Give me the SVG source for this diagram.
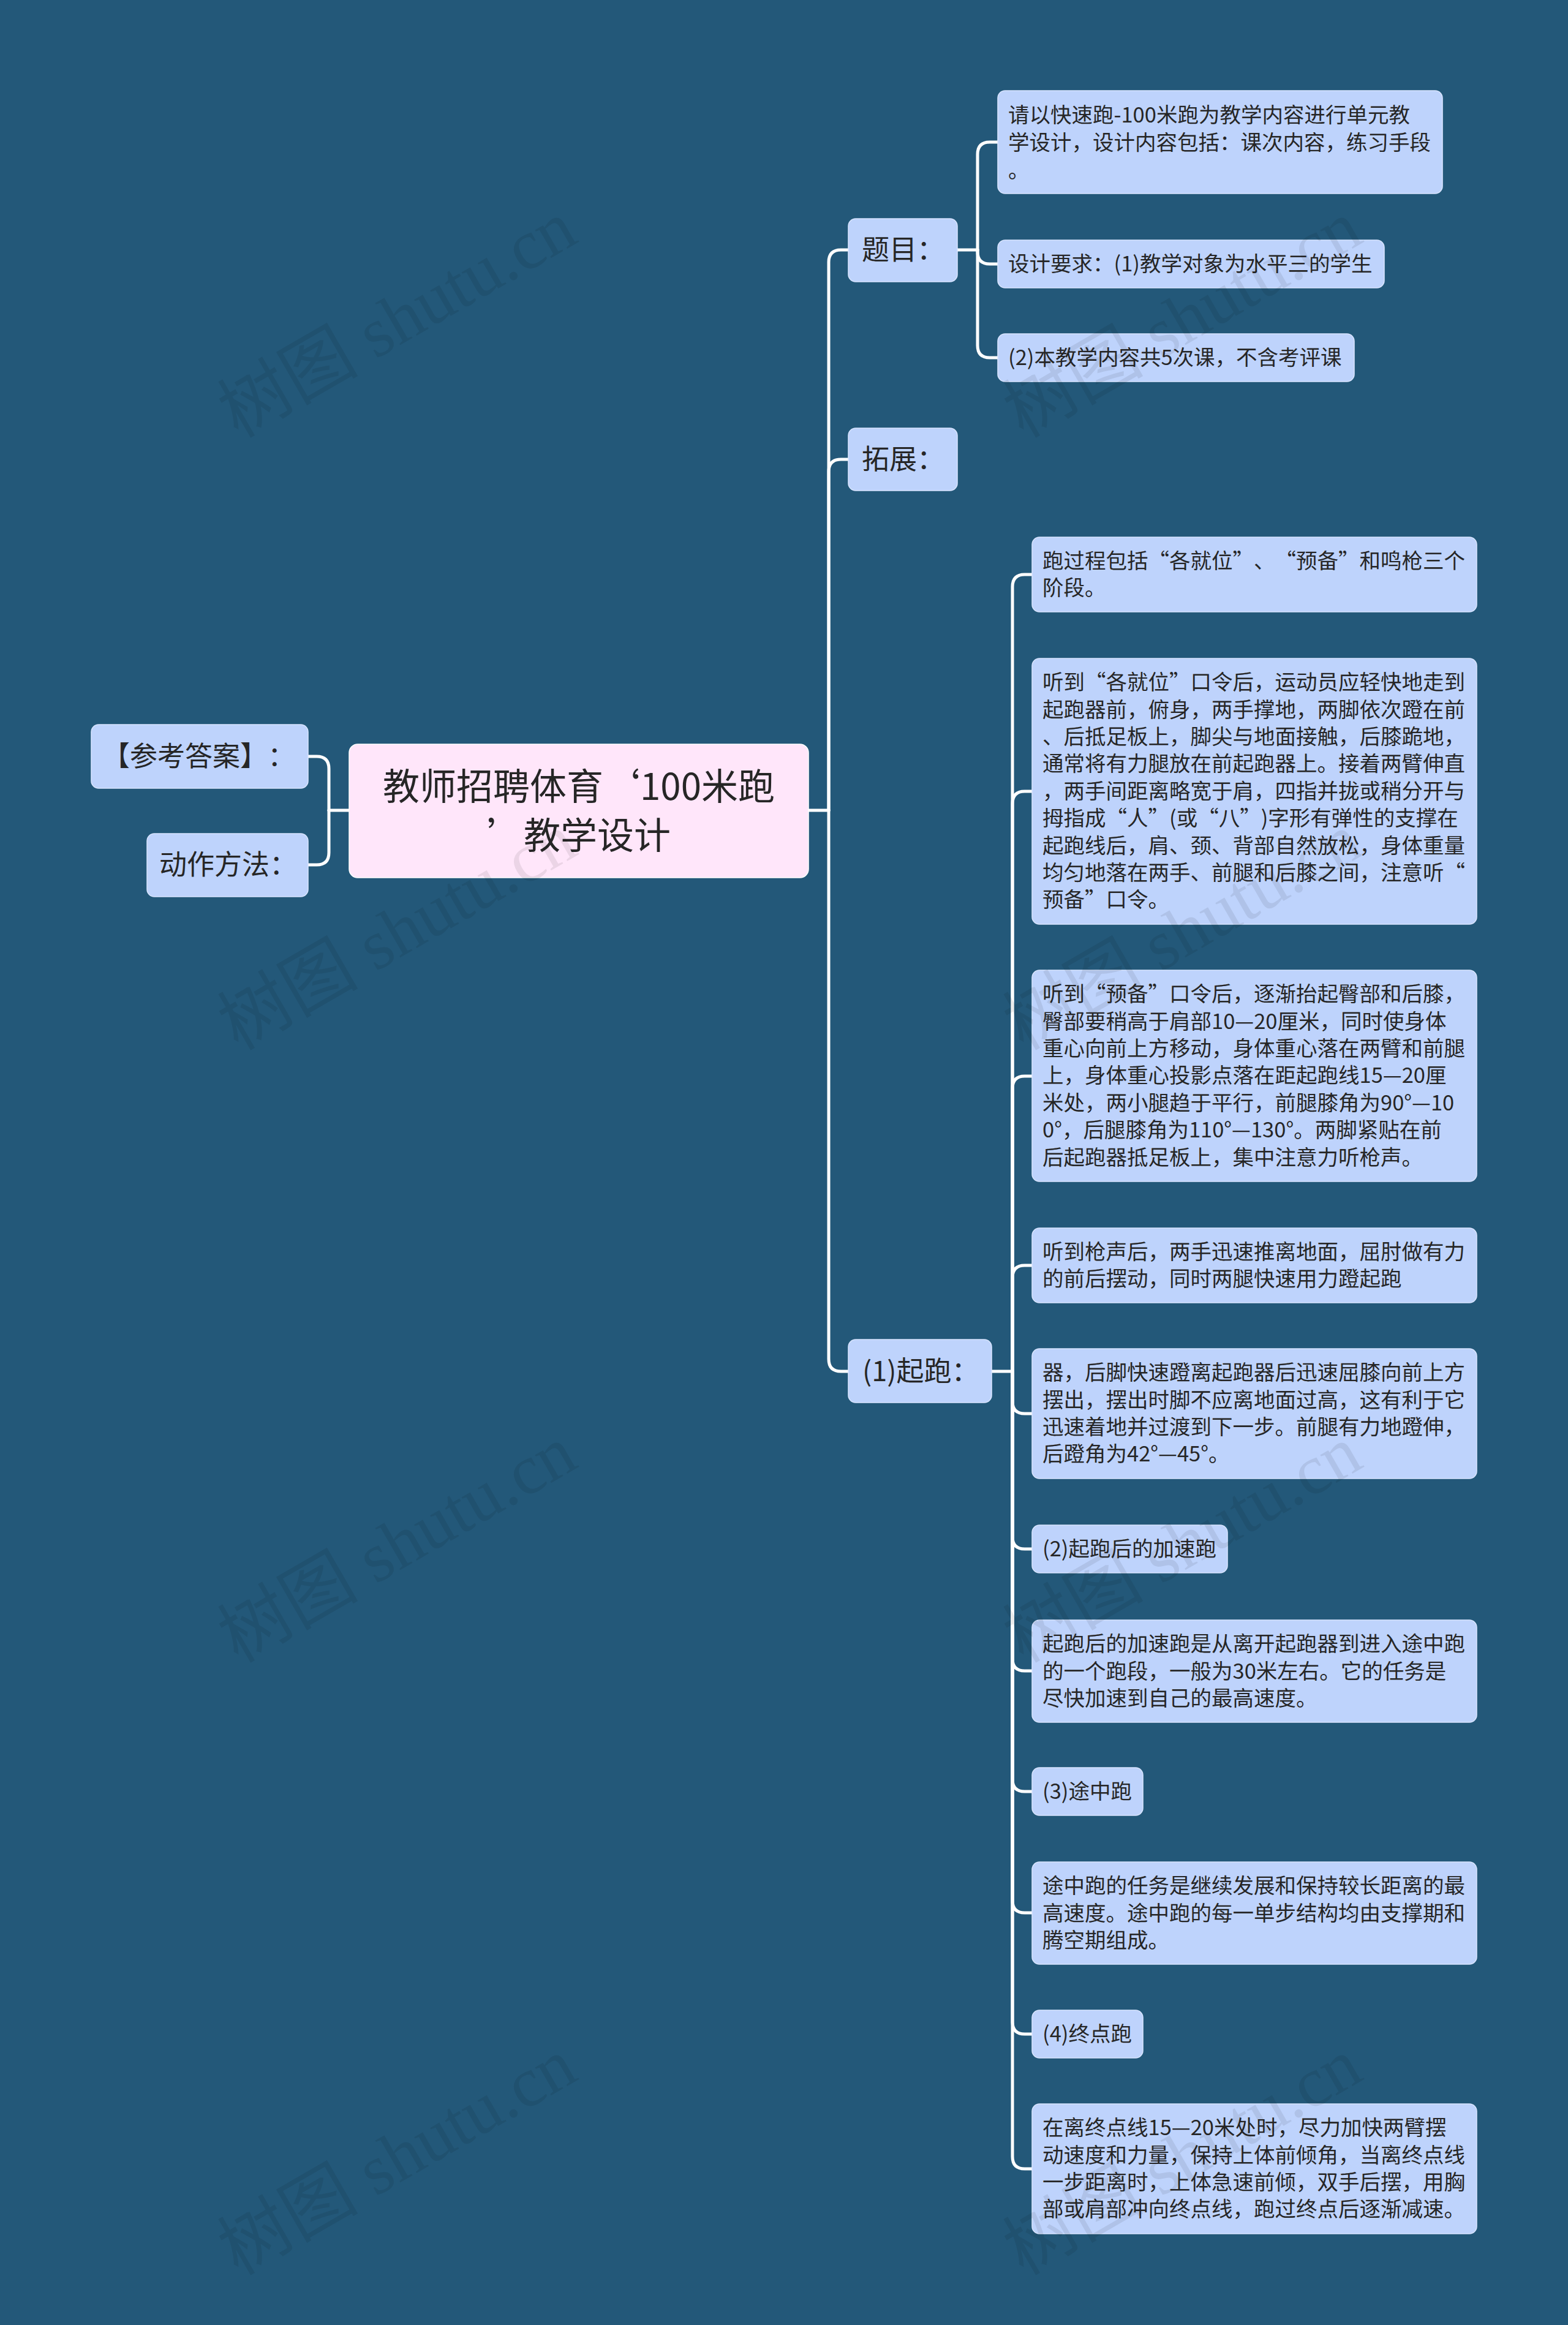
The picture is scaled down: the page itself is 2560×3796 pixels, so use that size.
<svg xmlns="http://www.w3.org/2000/svg" width="2560" height="3796" viewBox="0 0 2560 3796">
<style>
.bg{fill:#235879}
.n{fill:#bed3fc;stroke:#d9e5ff;stroke-width:1.5}
.root{fill:#ffe6fa;stroke:#ffffff;stroke-width:1.5}
.t{font-family:"Noto Sans CJK SC","Noto Sans",sans-serif;fill:#262626;text-spacing-trim:space-all;font-feature-settings:"halt" 0,"chws" 0}
.s{font-size:34.5px}
.m{font-size:45px}
.r{font-size:60px}
.c{fill:none;stroke:#ffffff;stroke-width:5;stroke-linecap:round}
.wm{font-family:"Liberation Serif","Noto Sans CJK SC",serif;font-size:115px;fill:#000000;fill-opacity:0.08}
</style>
<rect class="bg" x="0" y="0" width="2560" height="3796"/>

<g id="connectors">
<path class="c" d="M1320,1323 H1353"/>
<path class="c" d="M1353,1323 V428 Q1353,408 1373,408 H1385"/>
<path class="c" d="M1353,1323 V770 Q1353,750 1373,750 H1385"/>
<path class="c" d="M1353,1323 V2219 Q1353,2239 1373,2239 H1385"/>
<path class="c" d="M570,1323 H537"/>
<path class="c" d="M537,1323 V1255 Q537,1235 517,1235 H503"/>
<path class="c" d="M537,1323 V1392 Q537,1412 517,1412 H503"/>
<path class="c" d="M1563,408 H1596"/>
<path class="c" d="M1596,408 V252 Q1596,232 1616,232 H1629"/>
<path class="c" d="M1596,408 V411 Q1596,431 1616,431 H1629"/>
<path class="c" d="M1596,408 V564 Q1596,584 1616,584 H1629"/>
<path class="c" d="M1619,2239 H1653"/>
<path class="c" d="M1653,2239 V958 Q1653,938 1673,938 H1685"/>
<path class="c" d="M1653,2239 V1312 Q1653,1292 1673,1292 H1685"/>
<path class="c" d="M1653,2239 V1777 Q1653,1757 1673,1757 H1685"/>
<path class="c" d="M1653,2239 V2086 Q1653,2066 1673,2066 H1685"/>
<path class="c" d="M1653,2239 V2288 Q1653,2308 1673,2308 H1685"/>
<path class="c" d="M1653,2239 V2509 Q1653,2529 1673,2529 H1685"/>
<path class="c" d="M1653,2239 V2708 Q1653,2728 1673,2728 H1685"/>
<path class="c" d="M1653,2239 V2905 Q1653,2925 1673,2925 H1685"/>
<path class="c" d="M1653,2239 V3103 Q1653,3123 1673,3123 H1685"/>
<path class="c" d="M1653,2239 V3301 Q1653,3321 1673,3321 H1685"/>
<path class="c" d="M1653,2239 V3521 Q1653,3541 1673,3541 H1685"/>
</g>

<g id="root">
<rect class="root" x="570" y="1215" width="750" height="218" rx="14"/>
<text class="t r" x="945" y="1306" text-anchor="middle">教师招聘体育‘100米跑</text>
<text class="t r" x="945" y="1386" text-anchor="middle">’教学设计</text>
</g>

<g id="n-answer">
<rect class="n" x="149" y="1183" width="354" height="104" rx="12"/>
<text class="t m" x="167" y="1251">【参考答案】：</text>
</g>
<g id="n-method">
<rect class="n" x="240" y="1361" width="263" height="103" rx="12"/>
<text class="t m" x="260" y="1428">动作方法：</text>
</g>

<g id="n-timu">
<rect class="n" x="1385" y="357" width="178" height="103" rx="12"/>
<text class="t m" x="1407" y="424">题目：</text>
</g>
<g id="n-tuozhan">
<rect class="n" x="1385" y="699" width="178" height="102" rx="12"/>
<text class="t m" x="1407" y="766">拓展：</text>
</g>
<g id="n-qipao">
<rect class="n" x="1385" y="2187" width="234" height="103" rx="12"/>
<text class="t m" x="1408" y="2255">(1)起跑：</text>
</g>

<g id="n-timu-1">
<rect class="n" x="1629" y="148" width="726" height="168" rx="12"/>
<text class="t s" x="1646" y="200">请以快速跑-100米跑为教学内容进行单元教</text>
<text class="t s" x="1646" y="245">学设计，设计内容包括：课次内容，练习手段</text>
<text class="t s" x="1646" y="290">。</text>
</g>
<g id="n-timu-2">
<rect class="n" x="1629" y="392" width="631" height="78" rx="12"/>
<text class="t s" x="1646" y="443">设计要求：(1)教学对象为水平三的学生</text>
</g>
<g id="n-timu-3">
<rect class="n" x="1629" y="545" width="582" height="78" rx="12"/>
<text class="t s" x="1646" y="596">(2)本教学内容共5次课，不含考评课</text>
</g>

<g id="n-q1">
<rect class="n" x="1685" y="877" width="726" height="122" rx="12"/>
<text class="t s" x="1702" y="928">跑过程包括“各就位”、“预备”和鸣枪三个</text>
<text class="t s" x="1702" y="972">阶段。</text>
</g>
<g id="n-q2">
<rect class="n" x="1685" y="1075" width="726" height="434" rx="12"/>
<text class="t s" x="1702" y="1126">听到“各就位”口令后，运动员应轻快地走到</text>
<text class="t s" x="1702" y="1171">起跑器前，俯身，两手撑地，两脚依次蹬在前</text>
<text class="t s" x="1702" y="1215">、后抵足板上，脚尖与地面接触，后膝跪地，</text>
<text class="t s" x="1702" y="1259">通常将有力腿放在前起跑器上。接着两臂伸直</text>
<text class="t s" x="1702" y="1304">，两手间距离略宽于肩，四指并拢或稍分开与</text>
<text class="t s" x="1702" y="1348">拇指成“人”(或“八”)字形有弹性的支撑在</text>
<text class="t s" x="1702" y="1393">起跑线后，肩、颈、背部自然放松，身体重量</text>
<text class="t s" x="1702" y="1437">均匀地落在两手、前腿和后膝之间，注意听“</text>
<text class="t s" x="1702" y="1481">预备”口令。</text>
</g>
<g id="n-q3">
<rect class="n" x="1685" y="1584" width="726" height="345" rx="12"/>
<text class="t s" x="1702" y="1635">听到“预备”口令后，逐渐抬起臀部和后膝，</text>
<text class="t s" x="1702" y="1680">臀部要稍高于肩部10—20厘米，同时使身体</text>
<text class="t s" x="1702" y="1724">重心向前上方移动，身体重心落在两臂和前腿</text>
<text class="t s" x="1702" y="1768">上，身体重心投影点落在距起跑线15—20厘</text>
<text class="t s" x="1702" y="1813">米处，两小腿趋于平行，前腿膝角为90°—10</text>
<text class="t s" x="1702" y="1857">0°，后腿膝角为110°—130°。两脚紧贴在前</text>
<text class="t s" x="1702" y="1902">后起跑器抵足板上，集中注意力听枪声。</text>
</g>
<g id="n-q4">
<rect class="n" x="1685" y="2005" width="726" height="122" rx="12"/>
<text class="t s" x="1702" y="2056">听到枪声后，两手迅速推离地面，屈肘做有力</text>
<text class="t s" x="1702" y="2100">的前后摆动，同时两腿快速用力蹬起跑</text>
</g>
<g id="n-q5">
<rect class="n" x="1685" y="2202" width="726" height="212" rx="12"/>
<text class="t s" x="1702" y="2253">器，后脚快速蹬离起跑器后迅速屈膝向前上方</text>
<text class="t s" x="1702" y="2298">摆出，摆出时脚不应离地面过高，这有利于它</text>
<text class="t s" x="1702" y="2342">迅速着地并过渡到下一步。前腿有力地蹬伸，</text>
<text class="t s" x="1702" y="2386">后蹬角为42°—45°。</text>
</g>
<g id="n-q6">
<rect class="n" x="1685" y="2490" width="319" height="78" rx="12"/>
<text class="t s" x="1702" y="2541">(2)起跑后的加速跑</text>
</g>
<g id="n-q7">
<rect class="n" x="1685" y="2645" width="726" height="167" rx="12"/>
<text class="t s" x="1702" y="2696">起跑后的加速跑是从离开起跑器到进入途中跑</text>
<text class="t s" x="1702" y="2741">的一个跑段，一般为30米左右。它的任务是</text>
<text class="t s" x="1702" y="2785">尽快加速到自己的最高速度。</text>
</g>
<g id="n-q8">
<rect class="n" x="1685" y="2886" width="181" height="78" rx="12"/>
<text class="t s" x="1702" y="2937">(3)途中跑</text>
</g>
<g id="n-q9">
<rect class="n" x="1685" y="3040" width="726" height="167" rx="12"/>
<text class="t s" x="1702" y="3091">途中跑的任务是继续发展和保持较长距离的最</text>
<text class="t s" x="1702" y="3136">高速度。途中跑的每一单步结构均由支撑期和</text>
<text class="t s" x="1702" y="3180">腾空期组成。</text>
</g>
<g id="n-q10">
<rect class="n" x="1685" y="3282" width="181" height="78" rx="12"/>
<text class="t s" x="1702" y="3333">(4)终点跑</text>
</g>
<g id="n-q11">
<rect class="n" x="1685" y="3435" width="726" height="212" rx="12"/>
<text class="t s" x="1702" y="3486">在离终点线15—20米处时，尽力加快两臂摆</text>
<text class="t s" x="1702" y="3531">动速度和力量，保持上体前倾角，当离终点线</text>
<text class="t s" x="1702" y="3575">一步距离时，上体急速前倾，双手后摆，用胸</text>
<text class="t s" x="1702" y="3619">部或肩部冲向终点线，跑过终点后逐渐减速。</text>
</g>

<g id="watermark">
<text class="wm" text-anchor="middle" transform="translate(668,555) rotate(-30)">树图 shutu.cn</text>
<text class="wm" text-anchor="middle" transform="translate(1950,555) rotate(-30)">树图 shutu.cn</text>
<text class="wm" text-anchor="middle" transform="translate(668,1555) rotate(-30)">树图 shutu.cn</text>
<text class="wm" text-anchor="middle" transform="translate(1950,1555) rotate(-30)">树图 shutu.cn</text>
<text class="wm" text-anchor="middle" transform="translate(668,2555) rotate(-30)">树图 shutu.cn</text>
<text class="wm" text-anchor="middle" transform="translate(1950,2555) rotate(-30)">树图 shutu.cn</text>
<text class="wm" text-anchor="middle" transform="translate(668,3555) rotate(-30)">树图 shutu.cn</text>
<text class="wm" text-anchor="middle" transform="translate(1950,3555) rotate(-30)">树图 shutu.cn</text>
</g>
</svg>
